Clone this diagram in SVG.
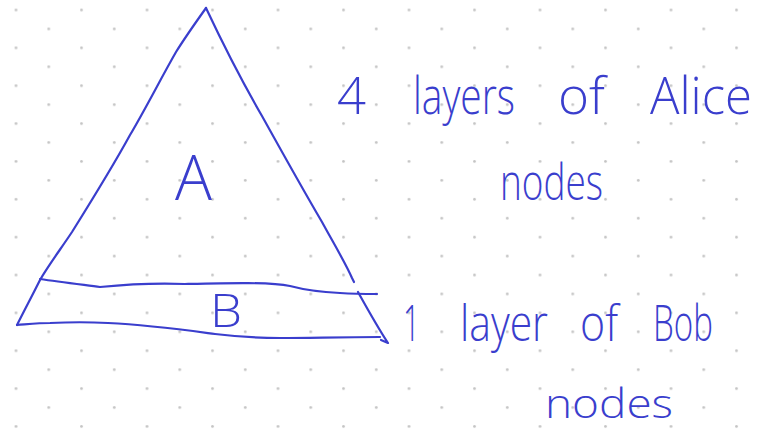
<svg xmlns="http://www.w3.org/2000/svg" width="767" height="430" viewBox="0 0 767 430">
<defs>
<pattern id="dots" x="14.6" y="8.6" width="65.5" height="37.86" patternUnits="userSpaceOnUse">
<circle cx="1.4" cy="1.4" r="1.4" fill="#c4c4c4"/>
<circle cx="34.15" cy="20.33" r="1.4" fill="#c4c4c4"/>
</pattern>
<style>
.ink{fill:none;stroke:#3a3ecd;stroke-width:2.2;stroke-linecap:round;stroke-linejoin:round}
.hand{fill:#3a3ecd;font-family:"Open Sans","DejaVu Sans",sans-serif;font-weight:300}
</style>
</defs>
<rect width="767" height="430" fill="#ffffff"/>
<rect width="767" height="430" fill="url(#dots)"/>
<g id="pyramid">
<path class="ink" d="M206,8 C196,22 186,36 176,52 C160,80 146,108 130,135 C112,168 92,200 72,232 C60,250 48,266 40,280 C32,296 24,311 17,325"/>
<path class="ink" d="M206,8 C222,42 240,78 262,116 C282,152 302,188 322,222 C334,244 346,264 352,278 L354,282 M358,292 C368,310 378,328 388,343 L381,340"/>
<path class="ink" d="M40,279 C60,282 85,285 100,287 C130,284 160,283 185,284 C230,283 270,282 290,286 C305,290 320,292 340,293 C355,294 368,294 377,294"/>
<path class="ink" d="M17,325 C30,324 40,323 50,323 C70,322 90,322 108,323 C150,325 185,330 215,334 C240,337 260,338 280,338 C310,338 340,337 380,337"/>
</g>
<g id="labels">
<text class="hand" x="175" y="200" font-size="62" textLength="37" lengthAdjust="spacingAndGlyphs">A</text>
<text class="hand" x="210" y="327" font-size="46" textLength="32" lengthAdjust="spacingAndGlyphs">B</text>
<text class="hand" y="114" font-size="52"><tspan x="337" textLength="29" lengthAdjust="spacingAndGlyphs">4</tspan><tspan x="413" textLength="102" lengthAdjust="spacingAndGlyphs">layers</tspan><tspan x="558" textLength="47" lengthAdjust="spacingAndGlyphs">of</tspan><tspan x="650" textLength="102" lengthAdjust="spacingAndGlyphs">Alice</tspan></text>
<text class="hand" x="500" y="200" font-size="50" textLength="103" lengthAdjust="spacingAndGlyphs">nodes</text>
<text class="hand" y="341" font-size="50"><tspan x="403" textLength="17" lengthAdjust="spacingAndGlyphs">1</tspan><tspan x="460" textLength="88" lengthAdjust="spacingAndGlyphs">layer</tspan><tspan x="580" textLength="38" lengthAdjust="spacingAndGlyphs">of</tspan><tspan x="653" textLength="60" lengthAdjust="spacingAndGlyphs">Bob</tspan></text>
<text class="hand" x="545" y="418" font-size="40" textLength="128" lengthAdjust="spacingAndGlyphs">nodes</text>
</g>
</svg>
